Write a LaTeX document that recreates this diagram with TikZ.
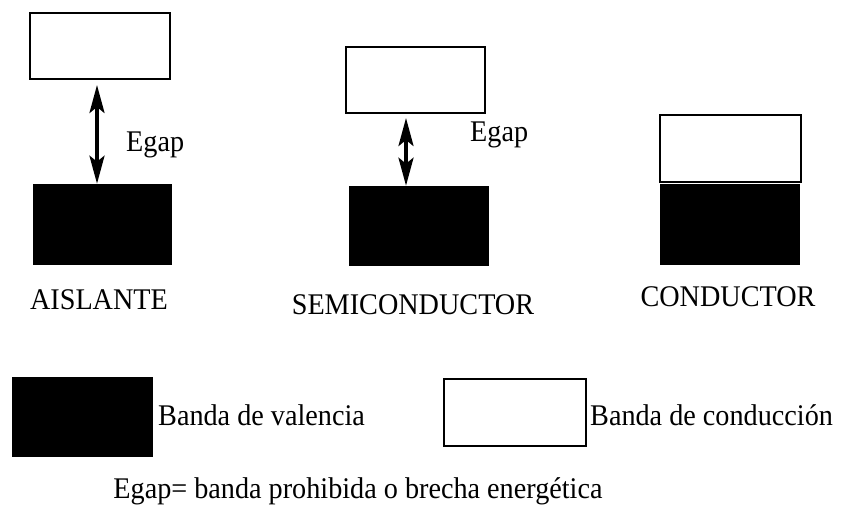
\documentclass[tikz,border=0pt]{standalone}
\usepackage{fontspec}
\setmainfont[FakeStretch=0.94]{Liberation Serif}
\usetikzlibrary{arrows.meta}

\tikzset{
  banda/.style={draw=black, line width=2pt, inner sep=0pt},
  vacia/.style={banda, fill=white},
  llena/.style={banda, fill=black, line width=0.6pt},
  gap/.style={line width=3.5pt, {Stealth[length=28pt,width=15pt,inset=6pt]}-{Stealth[length=28pt,width=15pt,inset=6pt]}},
  texto/.style={font=\fontsize{30}{34}\selectfont, inner sep=0pt}
}

\begin{document}
\begin{tikzpicture}[x=1pt,y=-1pt]
\useasboundingbox (0,0) rectangle (842,518);

% aislante
\node[vacia, minimum width=140pt, minimum height=66pt] (aw) at (100,46) {};
\node[llena, minimum width=138pt, minimum height=80pt] (ab) at (102,224) {};
\draw[gap, shorten <=5pt] ([xshift=-3pt]aw.south) -- ([xshift=-3pt]aw.south |- ab.north);
\node[texto, anchor=west] (ag) at (126,145) {Egap};
\node[texto] (al) at (99,300) {AISLANTE};

% semiconductor
\node[vacia, minimum width=139pt, minimum height=66pt] (sw) at (415.5,80) {};
\node[llena, minimum width=139pt, minimum height=79pt] (sb) at (418.5,225.5) {};
\draw[gap, shorten <=4pt] ([xshift=-9.5pt]sw.south) -- ([xshift=-9.5pt]sw.south |- sb.north);
\node[texto, anchor=west] (sg) at (470,135) {Egap};
\node[texto] (sl) at (413,305) {SEMICONDUCTOR};

% conductor
\node[vacia, minimum width=141pt, minimum height=67pt] (cw) at (730.5,148.5) {};
\node[llena, minimum width=139pt, minimum height=80pt] (cb) at (729.5,224) {};
\node[texto] (cl) at (728,297) {CONDUCTOR};

% leyenda
\node[llena, minimum width=140pt, minimum height=79pt] (lb) at (82,416.5) {};
\node[texto, anchor=west] (lbt) at (158,415) {Banda de valencia};
\node[vacia, minimum width=142pt, minimum height=67pt] (lw) at (515,412.5) {};
\node[texto, anchor=west] (lwt) at (590,415) {Banda de conducción};

\node[texto] (nota) at (358,491) {Egap= banda prohibida o brecha energética};
\end{tikzpicture}
\end{document}
